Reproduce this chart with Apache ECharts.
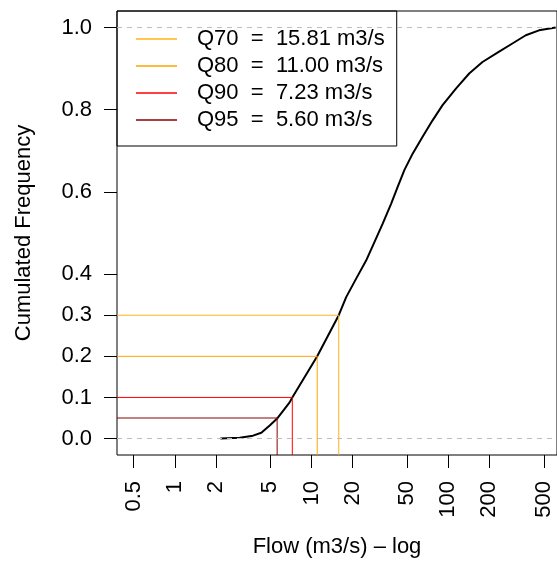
<!DOCTYPE html>
<html>
<head>
<meta charset="utf-8">
<script src="https://cdn.jsdelivr.net/npm/echarts@6/dist/echarts.min.js"></script>
<style>
html,body{margin:0;padding:0;background:#fff;}
#chart{width:557px;height:564px;}
</style>
</head>
<body>
<div id="chart"></div>
<script>
// Cumulative frequency curve (flow in m3/s, log scale)
const flow = [2.15, 2.98, 3.73, 4.29, 4.94, 5.58, 6.91, 7.23, 11.0, 15.81, 17.92, 21.20, 25.07, 28.84, 33.15, 38.18, 42.66, 47.74, 54.89, 64.92, 76.81, 90.87, 113.8, 142.3, 178.0, 235.6, 294.6, 369.2, 461.5, 611];
const cumFreq = [0.0, 0.002, 0.007, 0.014, 0.032, 0.048, 0.088, 0.10, 0.20, 0.30, 0.344, 0.389, 0.433, 0.478, 0.523, 0.571, 0.612, 0.653, 0.693, 0.734, 0.774, 0.811, 0.851, 0.888, 0.916, 0.941, 0.961, 0.981, 0.993, 1.0];

// Quantiles
const qNames = ['Q70', 'Q80', 'Q90', 'Q95'];
const qValues = [15.81, 11.00, 7.23, 5.60];
const qFreq = [0.30, 0.20, 0.10, 0.05];
const qColors = ['#FFB319', '#FFA500', '#FF0000', '#8B0000'];

// Axis ticks
const xTicks = [0.5, 1, 2, 5, 10, 20, 50, 100, 200, 500];
const yTicks = [0, 0.1, 0.2, 0.3, 0.4, 0.6, 0.8, 1.0];
const refLines = [0, 1];

const xMin = 0.3773, xMax = 624.6;
const yMin = -0.04, yMax = 1.04;
const FONT = 'Liberation Sans, Arial, Helvetica, sans-serif';

const qSeries = qNames.map((n, i) => ({
  name: n + '  =  ' + qValues[i].toFixed(2) + ' m3/s',
  type: 'line',
  data: [[xMin, qFreq[i]], [qValues[i], qFreq[i]], [qValues[i], yMin]],
  showSymbol: false,
  symbol: 'none',
  lineStyle: { color: qColors[i], width: 1 },
  itemStyle: { color: qColors[i] },
  silent: true,
  z: 3
}));

const chart = echarts.init(document.getElementById('chart'), null, { renderer: 'canvas' });
chart.setOption({
  animation: false,
  backgroundColor: '#ffffff',
  textStyle: { fontFamily: FONT },
  grid: {
    left: 117, right: -1, top: 11, bottom: 109,
    show: true, borderColor: '#000', borderWidth: 1, backgroundColor: 'transparent'
  },
  legend: {
    data: qSeries.map(s => s.name),
    orient: 'vertical',
    left: 117, top: 11,
    icon: 'rect',
    itemWidth: 41, itemHeight: 1.5,
    itemGap: 5,
    padding: [17, 12, 15, 19],
    borderColor: '#000', borderWidth: 1,
    backgroundColor: 'transparent',
    selectedMode: false,
    textStyle: { fontFamily: FONT, fontSize: 22, color: '#000', padding: [0, 0, 0, 15], lineHeight: 22 }
  },
  xAxis: {
    type: 'log',
    min: xMin, max: xMax,
    name: 'Flow (m3/s) \u2013 log',
    nameLocation: 'middle',
    nameGap: 81,
    nameTextStyle: { fontFamily: FONT, fontSize: 22, color: '#000' },
    axisLine: { show: false, onZero: false },
    axisTick: { show: true, length: 13, inside: false, lineStyle: { color: '#000', width: 1 }, customValues: xTicks },
    axisLabel: {
      customValues: xTicks, rotate: 90, margin: 26,
      fontFamily: FONT, fontSize: 22, color: '#000',
      formatter: v => String(v)
    },
    splitLine: { show: false },
    minorTick: { show: false }
  },
  yAxis: {
    type: 'value',
    min: yMin, max: yMax,
    name: 'Cumulated Frequency',
    nameLocation: 'middle',
    nameGap: 82,
    nameTextStyle: { fontFamily: FONT, fontSize: 22, color: '#000' },
    axisLine: { show: false, onZero: false },
    axisTick: { show: true, length: 13, lineStyle: { color: '#000', width: 1 }, customValues: yTicks },
    axisLabel: {
      customValues: yTicks, margin: 25,
      fontFamily: FONT, fontSize: 22, color: '#000',
      formatter: v => Number(v).toFixed(1)
    },
    splitLine: { show: false }
  },
  series: [
    {
      name: 'curve',
      type: 'line',
      data: flow.map((v, i) => [v, cumFreq[i]]),
      showSymbol: false,
      symbol: 'none',
      lineStyle: { color: '#000', width: 2 },
      itemStyle: { color: '#000' },
      silent: true,
      z: 2,
      markLine: {
        silent: true,
        symbol: 'none',
        label: { show: false },
        lineStyle: { color: '#BEBEBE', type: [5, 5], width: 1 },
        data: refLines.map(v => ({ yAxis: v }))
      }
    }
  ].concat(qSeries)
});
</script>
</body>
</html>
